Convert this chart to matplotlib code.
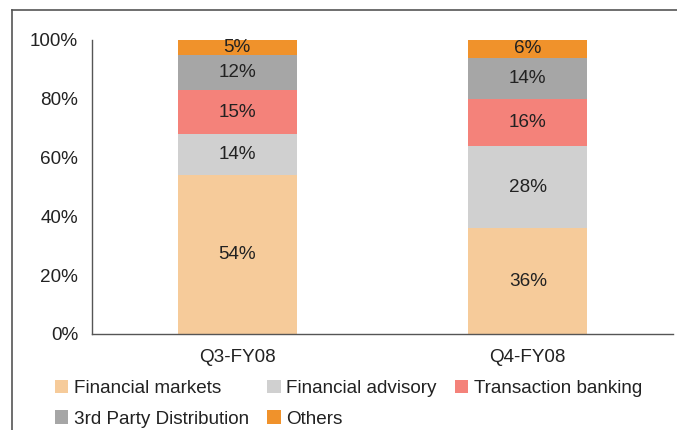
import matplotlib
matplotlib.use("Agg")
import matplotlib.pyplot as plt
from matplotlib.lines import Line2D
import numpy as np

plt.rcParams['font.family'] = ['Liberation Sans', 'DejaVu Sans']

categories = ["Q3-FY08", "Q4-FY08"]
series_names = ["Financial markets", "Financial advisory", "Transaction banking",
                "3rd Party Distribution", "Others"]
financial_markets = [54, 36]
financial_advisory = [14, 28]
transaction_banking = [15, 16]
third_party = [12, 14]
others = [5, 6]
values = [financial_markets, financial_advisory, transaction_banking, third_party, others]
colors = ["#F6CB9A", "#D0D0D0", "#F4827A", "#A6A6A6", "#F0922B"]
yticks = [0, 20, 40, 60, 80, 100]
ytick_labels = ["0%", "20%", "40%", "60%", "80%", "100%"]

W, H = 677, 430
FS = 13.6
fig = plt.figure(figsize=(W/100, H/100), dpi=100)
ax = fig.add_axes([92/W, 1-334/H, (673-92)/W, (334-40)/H])

x = np.arange(len(categories))
bottom = np.zeros(len(categories))
handles = []
for name, vals, c in zip(series_names, values, colors):
    vals = np.array(vals, dtype=float)
    b = ax.bar(x, vals, 0.41, bottom=bottom, color=c, label=name)
    handles.append(b)
    for xi, v, bt in zip(x, vals, bottom):
        ax.text(xi, bt + v/2, f"{int(v)}%", ha="center", va="center",
                fontsize=FS, color="#222222")
    bottom += vals

ax.set_xlim(-0.5, 1.5)
ax.set_ylim(0, 100)
ax.set_yticks(yticks)
ax.set_yticklabels(ytick_labels)
ax.set_xticks(x)
ax.set_xticklabels(categories)
ax.tick_params(axis="both", length=0, labelsize=FS, colors="#222222")
ax.tick_params(axis="y", pad=10)
ax.tick_params(axis="x", pad=11)
for s in ["top", "right"]:
    ax.spines[s].set_visible(False)
for s in ["left", "bottom"]:
    ax.spines[s].set_color("#555555")
    ax.spines[s].set_linewidth(1.0)

order = [0, 3, 1, 4, 2]
leg = fig.legend([handles[i] for i in order], [series_names[i] for i in order],
                 ncol=3, loc="upper left", bbox_to_anchor=(55/W, 1-380/H),
                 frameon=False, fontsize=FS, handlelength=0.7, handleheight=0.7,
                 handletextpad=0.3, columnspacing=0.97, labelspacing=0.7,
                 borderpad=0, borderaxespad=0)
for t in leg.get_texts():
    t.set_color("#222222")

# outer frame lines (top and left)
fig.add_artist(Line2D([12/W, 1], [1-10/H, 1-10/H], color="#555555", lw=1.2,
                      transform=fig.transFigure))
fig.add_artist(Line2D([12/W, 12/W], [0, 1-10/H], color="#555555", lw=1.2,
                      transform=fig.transFigure))

fig.savefig("out.png", dpi=100)
